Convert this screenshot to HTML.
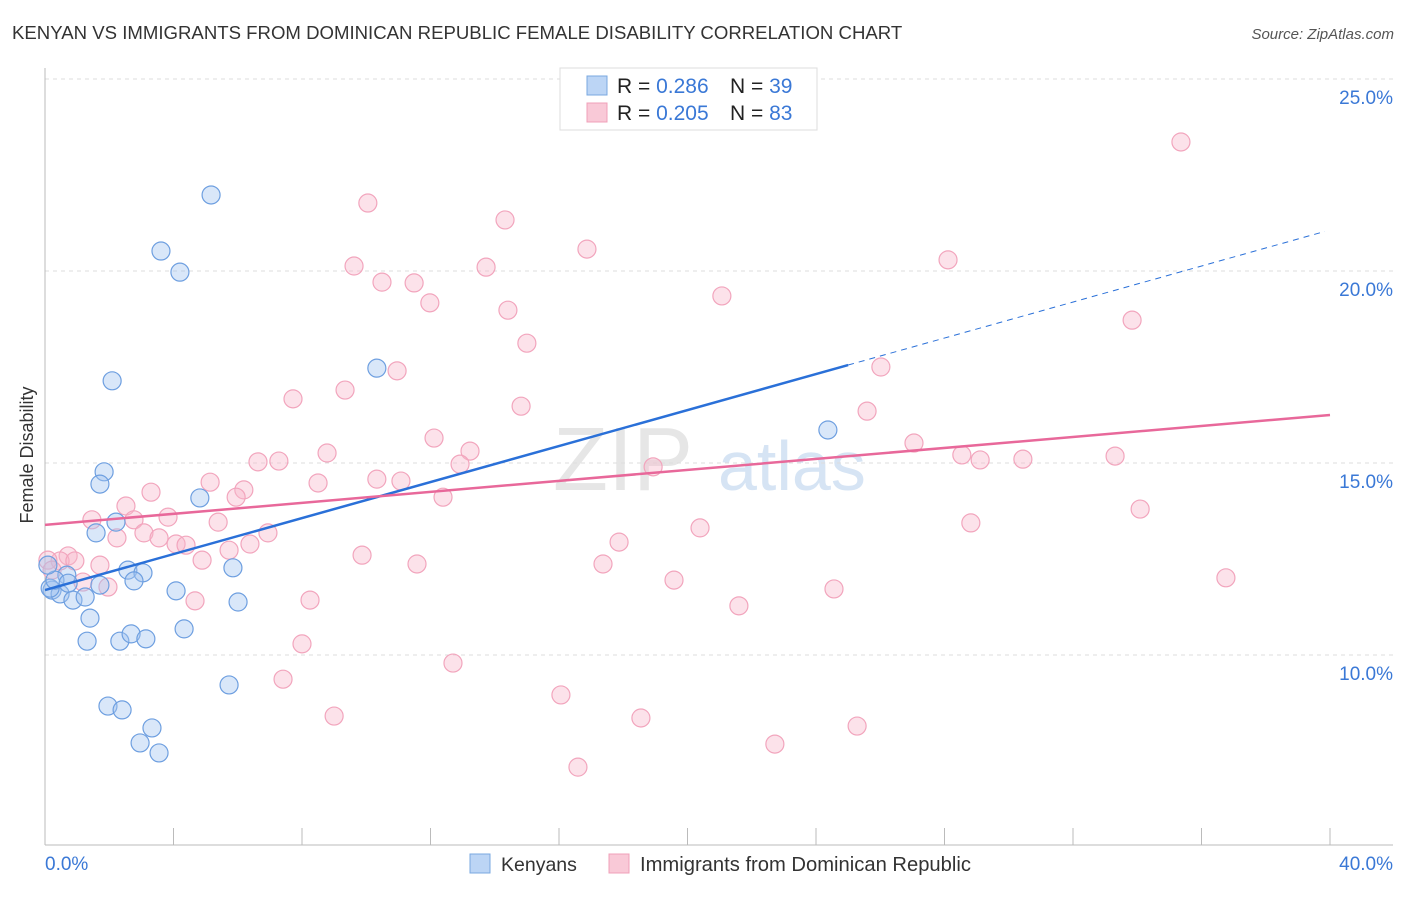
<!DOCTYPE html>
<html><head><meta charset="utf-8"><style>
body{margin:0;background:#fff;font-family:"Liberation Sans",sans-serif;}
svg text{font-family:"Liberation Sans",sans-serif;}
</style></head><body>
<svg id="chart" width="1406" height="892">
<text x="12" y="39" font-size="18.6" fill="#333">KENYAN VS IMMIGRANTS FROM DOMINICAN REPUBLIC FEMALE DISABILITY CORRELATION CHART</text>
<text x="1394" y="39" font-size="15" fill="#555" font-style="italic" text-anchor="end">Source: ZipAtlas.com</text>
<text x="33" y="455" font-size="18" fill="#333" text-anchor="middle" transform="rotate(-90 33 455)">Female Disability</text>
<g><text x="553" y="490" font-size="90" fill="#e6e6e6" font-family="Liberation Serif">ZIP</text><text x="718" y="490" font-size="70" fill="#d6e4f4">atlas</text></g>
<g id="grid"></g><g id="axes"></g><g id="pts"></g><g id="lines"></g>
<g>
<rect x="560" y="68" width="257" height="62" fill="#fff" stroke="#ddd"/>
<rect x="587" y="76" width="20" height="19" fill="#bcd5f5" stroke="#7aa8e0"/>
<rect x="587" y="103" width="20" height="19" fill="#f9c9d7" stroke="#f0a0b8"/>
<text x="617" y="93" font-size="21" fill="#222">R = <tspan fill="#3a78d6">0.286</tspan></text>
<text x="730" y="93" font-size="21" fill="#222">N = <tspan fill="#3a78d6">39</tspan></text>
<text x="617" y="120" font-size="21" fill="#222">R = <tspan fill="#3a78d6">0.205</tspan></text>
<text x="730" y="120" font-size="21" fill="#222">N = <tspan fill="#3a78d6">83</tspan></text>
</g>
<g>
<rect x="470" y="854" width="20" height="19" fill="#bcd5f5" stroke="#7aa8e0"/>
<text x="501" y="871" font-size="19.5" fill="#333">Kenyans</text>
<rect x="609" y="854" width="20" height="19" fill="#f9c9d7" stroke="#f0a0b8"/>
<text x="640" y="871" font-size="20.2" fill="#333">Immigrants from Dominican Republic</text>
</g>
</svg>
<script>
const yTicks=[10,15,20,25];
const yTickLabels=["10.0%","15.0%","20.0%","25.0%"];
const xTickLabels=["0.0%","40.0%"];
const blueX=[5.17,3.61,4.20,2.09,10.33,1.84,1.71,4.82,2.21,1.59,2.58,3.05,2.77,5.85,0.68,4.08,6.01,0.22,0.47,0.87,1.25,1.71,1.40,1.31,2.33,2.68,3.14,4.33,5.73,1.96,2.40,3.33,2.96,3.55,24.37,0.16,0.31,0.09,0.72];
const blueY=[21.98,20.52,19.97,17.14,17.47,14.77,14.45,14.09,13.46,13.18,12.21,12.14,11.93,12.27,12.08,11.67,11.38,11.69,11.59,11.43,11.51,11.82,10.96,10.36,10.36,10.55,10.42,10.68,9.22,8.67,8.57,8.10,7.71,7.45,15.86,11.74,11.95,12.34,11.87];
const pinkX=[35.36,10.05,14.32,16.87,9.62,13.73,10.49,11.49,11.98,14.41,28.11,21.07,33.84,15.00,26.02,10.96,9.34,7.72,14.82,25.59,12.11,8.78,13.23,27.05,12.92,28.54,29.11,30.44,33.31,18.93,6.63,7.28,10.33,11.08,5.14,8.50,3.30,6.19,5.95,12.39,2.52,1.46,2.77,3.83,5.39,6.94,3.08,2.24,3.55,4.08,4.39,6.38,5.73,4.89,34.09,28.82,20.39,17.87,9.87,11.58,17.37,1.71,0.72,0.47,0.93,0.09,0.22,1.18,1.96,19.58,36.76,24.56,4.67,8.25,21.60,8.00,12.70,7.41,16.06,9.00,18.55,25.28,22.72,16.59];
const pinkY=[23.36,21.77,21.33,20.57,20.13,20.10,19.71,19.69,19.17,18.98,20.29,19.35,18.72,18.12,17.50,17.40,16.90,16.67,16.48,16.35,15.65,15.26,15.31,15.52,14.97,15.21,15.08,15.10,15.18,14.90,15.03,15.05,14.58,14.53,14.50,14.48,14.24,14.30,14.11,14.11,13.88,13.52,13.52,13.59,13.46,13.18,13.18,13.05,13.05,12.89,12.86,12.89,12.73,12.47,13.80,13.44,13.31,12.94,12.60,12.37,12.37,12.34,12.58,12.45,12.45,12.47,12.21,11.90,11.77,11.95,12.01,11.72,11.41,11.43,11.28,10.29,9.79,9.37,8.96,8.41,8.36,8.15,7.68,7.08];
const blueTrend=[11.69,21.03]; // at x=0 and x=39.84
const pinkTrend=[13.39,16.25]; // at x=0 and x=40
const NS="http://www.w3.org/2000/svg";
const X=v=>45+v/40*1285, Y=v=>79+(25-v)/5*192;
function mk(t,a,p){const e=document.createElementNS(NS,t);for(const k in a)e.setAttribute(k,a[k]);p.appendChild(e);return e;}
const grid=document.getElementById('grid'),axes=document.getElementById('axes'),pts=document.getElementById('pts'),lines=document.getElementById('lines');
yTicks.forEach((t,i)=>{
 const l=mk('line',{x1:45,x2:1393,y1:Y(t),y2:Y(t),stroke:'#ddd','stroke-dasharray':'4,4'},grid);
 
 
 const tx=mk('text',{x:1393,y:Y(t)+25,'font-size':19,fill:'#3a78d6','text-anchor':'end'},axes);tx.textContent=yTickLabels[i];
 
 
});
let a=mk('line',{x1:45,x2:45,y1:68,y2:845,stroke:'#bbb'},axes);


a=mk('line',{x1:45,x2:1393,y1:845,y2:845,stroke:'#bbb'},axes);


for(let i=0;i<=10;i++){const tk=mk('line',{x1:X(i*4),x2:X(i*4),y1:828,y2:845,stroke:'#bbb'},axes);
 
 }
let t0=mk('text',{x:45,y:870,'font-size':19,fill:'#3a78d6'},axes);t0.textContent=xTickLabels[0];


t0=mk('text',{x:1393,y:870,'font-size':19,fill:'#3a78d6','text-anchor':'end'},axes);t0.textContent=xTickLabels[1];


pinkX.forEach((v,i)=>{const c=mk('circle',{cx:X(v),cy:Y(pinkY[i]),r:9,fill:'rgba(248,182,202,0.4)',stroke:'#f2a5bd','stroke-width':1.2},pts);
 
 });
blueX.forEach((v,i)=>{const c=mk('circle',{cx:X(v),cy:Y(blueY[i]),r:9,fill:'rgba(160,196,240,0.4)',stroke:'#6e9fe0','stroke-width':1.2},pts);
 
 });
const bAt=x=>blueTrend[0]+(blueTrend[1]-blueTrend[0])*x/39.84;
let ln=mk('line',{x1:X(0),y1:Y(bAt(0)),x2:X(25),y2:Y(bAt(25)),stroke:'#2a70d8','stroke-width':2.5},lines);


ln=mk('line',{x1:X(25),y1:Y(bAt(25)),x2:X(39.84),y2:Y(bAt(39.84)),stroke:'#2a70d8','stroke-width':1,'stroke-dasharray':'6,5'},lines);


ln=mk('line',{x1:X(0),y1:Y(pinkTrend[0]),x2:X(40),y2:Y(pinkTrend[1]),stroke:'#e8689a','stroke-width':2.5},lines);


</script>
</body></html>
